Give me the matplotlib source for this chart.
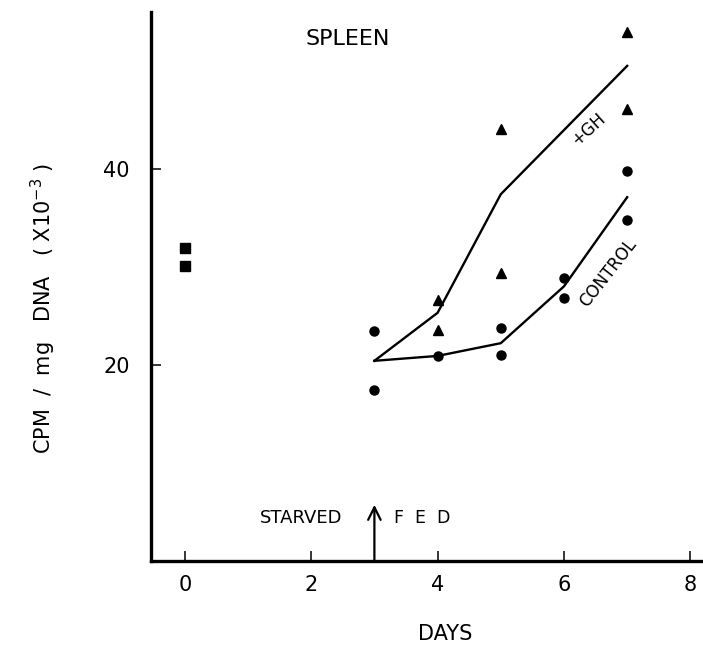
import matplotlib
matplotlib.use("Agg")
import matplotlib.pyplot as plt

# baseline (day 0) values
base_days = [0, 0]
base_vals = [31.9, 30.1]

# control group (circles)
ctrl_days = [3, 3, 4, 5, 5, 6, 6, 7, 7]
ctrl_vals = [23.4, 17.4, 20.9, 23.7, 21.0, 28.9, 26.8, 39.8, 34.8]

# +GH group (triangles)
gh_days = [4, 4, 5, 5, 7, 7]
gh_vals = [26.6, 23.5, 44.1, 29.4, 54.0, 46.1]

# drawn mean lines
gh_line_days = [3, 4, 5, 7]
gh_line_vals = [20.4, 25.3, 37.4, 50.5]
ctrl_line_days = [3, 4, 5, 6, 7]
ctrl_line_vals = [20.4, 20.9, 22.2, 28.0, 37.1]

x_ticks = [0, 2, 4, 6, 8]
y_ticks = [20, 40]

plt.rcParams['font.family'] = ['DejaVu Sans']

fig = plt.figure(figsize=(7.03, 6.46), dpi=100)
ax = fig.add_axes([150.7 / 703, 85.3 / 646, 552.3 / 703, 548.7 / 646])

ax.plot(gh_line_days, gh_line_vals, color='black', lw=1.7)
ax.plot(ctrl_line_days, ctrl_line_vals, color='black', lw=1.7)
ax.plot(base_days, base_vals, 's', color='black', ms=6.5, ls='none')
ax.plot(ctrl_days, ctrl_vals, 'o', color='black', ms=6.5, ls='none')
ax.plot(gh_days, gh_vals, '^', color='black', ms=7.5, ls='none')

ax.set_xlim(-0.54, 8.2)
ax.set_ylim(0, 56)
ax.set_xticks(x_ticks)
ax.set_yticks(y_ticks)
ax.set_xticklabels([str(t) for t in x_ticks], fontsize=15)
ax.set_yticklabels([str(t) for t in y_ticks], fontsize=15)
ax.tick_params(axis='both', direction='in', length=7, width=1.1)
ax.tick_params(axis='x', pad=10)
ax.tick_params(axis='y', pad=15)

for s in ['top', 'right']:
    ax.spines[s].set_visible(False)
for s in ['left', 'bottom']:
    ax.spines[s].set_linewidth(2.4)

ax.text(2.58, 53.2, 'SPLEEN', fontsize=16, ha='center', va='center')
ax.text(6.39, 44.0, '+GH', fontsize=12, ha='center', va='center', rotation=42)
ax.text(6.7, 29.4, 'CONTROL', fontsize=12, ha='center', va='center', rotation=52)

ax.annotate('', xy=(3, 5.7), xytext=(3, 0),
            arrowprops=dict(arrowstyle='->,head_length=0.6,head_width=0.3', lw=1.6,
                            color='black', shrinkA=0, shrinkB=0, mutation_scale=15))
ax.text(1.84, 4.4, 'STARVED', fontsize=13, ha='center', va='center')
ax.text(3.75, 4.4, 'F  E  D', fontsize=12.5, ha='center', va='center')

ax.set_xlabel('DAYS', fontsize=15)
ax.xaxis.set_label_coords(0.533, -0.115)
ax.text(-0.195, 0.46, r'CPM  /  mg   DNA   ( X10$^{-3}$ )', fontsize=15, rotation=90,
        ha='center', va='center', transform=ax.transAxes)

fig.savefig('out.png', dpi=100)
